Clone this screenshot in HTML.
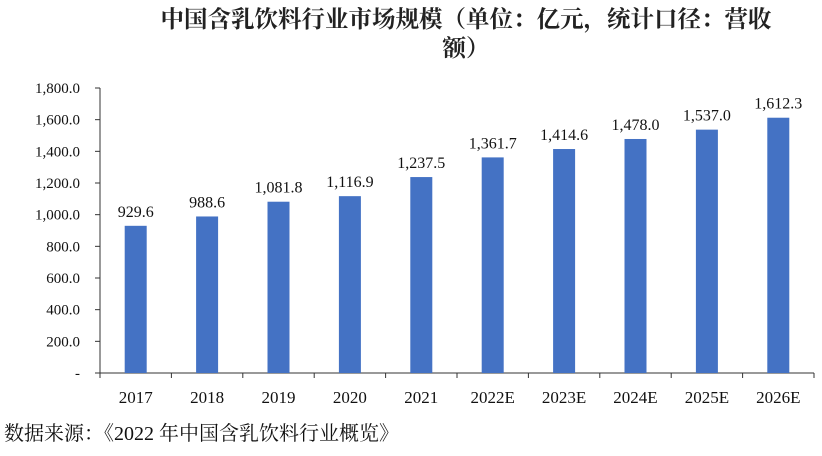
<!DOCTYPE html>
<html><head><meta charset="utf-8"><style>
body{margin:0;background:#fff;}
svg text{font-family:"Liberation Serif","Noto Serif CJK SC",serif;}
svg text.cjk{font-family:"Noto Serif CJK SC","Liberation Serif",serif;}
</style></head><body>
<svg id="chart" width="822" height="451" xmlns="http://www.w3.org/2000/svg">
<text class="cjk" x="466" y="27" text-anchor="middle" font-size="23.5" font-weight="bold" fill="#222">中国含乳饮料行业市场规模（单位：亿元，统计口径：营收</text>
<text class="cjk" x="466" y="56" text-anchor="middle" font-size="23.5" font-weight="bold" fill="#222">额）</text>
<text class="cjk" x="4" y="440" font-size="20" fill="#111">数据来源：《<tspan font-family="Liberation Serif">2022 </tspan>年中国含乳饮料行业概览》</text>
<g id="plot"></g>
</svg>
<script>
const categories=["2017","2018","2019","2020","2021","2022E","2023E","2024E","2025E","2026E"];
const values=[929.6,988.6,1081.8,1116.9,1237.5,1361.7,1414.6,1478.0,1537.0,1612.3];
const yTicks=[0,200,400,600,800,1000,1200,1400,1600,1800];
const yTickLabels=["-","200.0","400.0","600.0","800.0","1,000.0","1,200.0","1,400.0","1,600.0","1,800.0"];
const valueLabels=["929.6","988.6","1,081.8","1,116.9","1,237.5","1,361.7","1,414.6","1,478.0","1,537.0","1,612.3"];
const X0=100,X1=814,Y0=373,YMAX=1800,H=285;
const y=v=>Y0-v/YMAX*H;
const bw=(X1-X0)/categories.length;
const xc=i=>X0+bw*(i+0.5);
const g=document.getElementById('plot');
const NS="http://www.w3.org/2000/svg";
function mk(t,a){const e=document.createElementNS(NS,t);for(const k in a)e.setAttribute(k,a[k]);g.appendChild(e);return e;}
let ax=mk('line',{x1:X0,y1:y(YMAX),x2:X0,y2:Y0,stroke:'#333','stroke-width':1});


let bx=mk('line',{x1:X0,y1:Y0,x2:X1,y2:Y0,stroke:'#333','stroke-width':1});


yTicks.forEach((v,i)=>{
 const t=mk('line',{x1:X0-5,y1:y(v),x2:X0,y2:y(v),stroke:'#333'});
 
 
 const l=mk('text',{x:X0-20,y:y(v)+5,'text-anchor':'end','font-size':15,fill:'#111'});
 l.textContent=yTickLabels[i];
 
 
});
for(let i=0;i<=categories.length;i++){
 const t=mk('line',{x1:X0+bw*i,y1:Y0,x2:X0+bw*i,y2:Y0+5,stroke:'#333'});
 
 
}
categories.forEach((c,i)=>{
 const r=mk('rect',{x:xc(i)-11,y:y(values[i]),width:22,height:Y0-y(values[i]),fill:'#4472c4'});
 
 
 const v=mk('text',{x:xc(i),y:y(values[i])-9,'text-anchor':'middle','font-size':16,fill:'#111'});
 v.textContent=valueLabels[i];
 
 
 const l=mk('text',{x:xc(i),y:Y0+30,'text-anchor':'middle','font-size':17,fill:'#111'});
 l.textContent=c;
 
 
});
</script>
</body></html>
